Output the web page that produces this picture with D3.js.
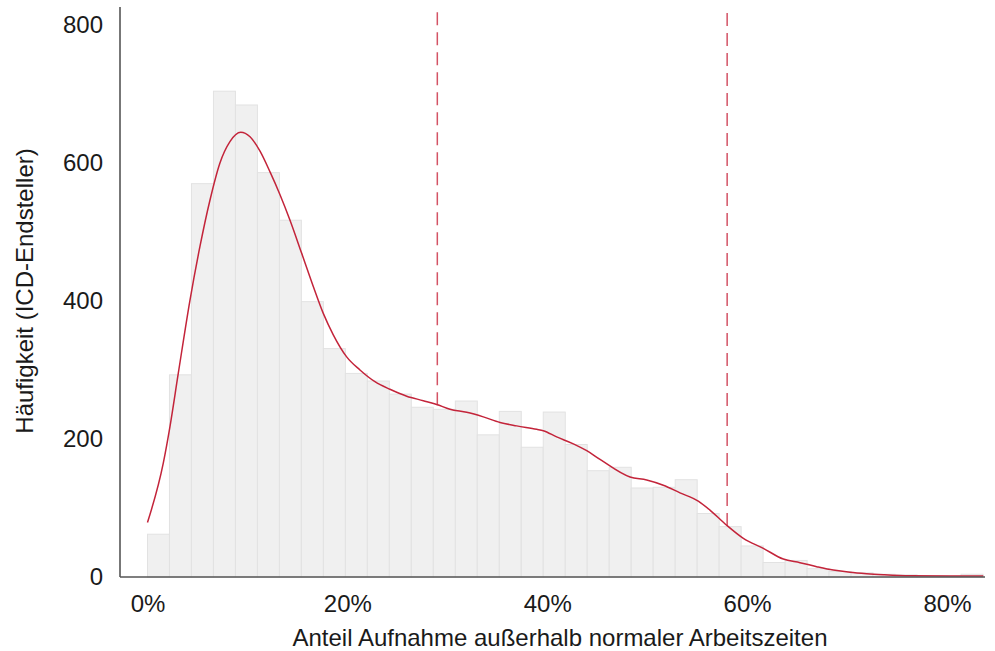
<!DOCTYPE html>
<html>
<head>
<meta charset="utf-8">
<script src="https://cdn.jsdelivr.net/npm/d3@7"></script>
<style>
  html, body { margin: 0; padding: 0; background: #fff; }
  svg { display: block; font-family: "Liberation Sans", Arial, sans-serif; }
</style>
</head>
<body>
<svg id="chart" width="995" height="651"></svg>
<script>
// ---- data ----
const binWidth = 2.2; // percent
const counts = [62, 293, 570, 704, 684, 586, 517, 399, 331, 295, 284, 265, 246, 243, 255, 206, 240, 188, 239, 192,
                154, 159, 129, 130, 141, 92, 73, 45, 21, 24, 12, 8, 6, 4, 3, 1, 1, 4];
const densityX = [0.0, 1.58, 2.25, 3.08, 4.25, 5.25, 6.25, 7.25, 8.25, 9.33, 10.26, 11.26, 12.26, 13.26, 14.26, 15.43,
                  16.59, 17.59, 18.59, 19.93, 21.26, 22.76, 24.26, 25.94, 27.6, 28.94, 30.27, 31.94, 33.6, 35.27, 36.94,
                  38.94, 39.6, 40.94, 42.61, 43.95, 45.28, 48.28, 49.95, 51.61, 53.28, 55.11, 56.28, 57.95, 59.62, 61.62,
                  63.62, 65.29, 66.96, 68.62, 70.29, 71.96, 73.63, 76.3, 80.3, 83.63];
const densityY = [79, 165, 218, 295, 401, 479, 546, 600, 631, 644.5, 638, 617, 587, 554, 517, 469,
                  421, 382, 351, 319, 300, 283, 272, 262, 255.5, 250, 243, 238.6, 232, 224, 219,
                  214, 212, 203, 193, 183, 170.5, 145, 140.6, 133, 122, 110, 97, 75, 56, 41.5,
                  26, 20.8, 15, 10, 6.8, 4.8, 3.4, 1.9, 1.5, 1.5];
const vlineX = [29.0, 58.0];
const vlineFrom = [249, 74];
const vlineTo = 819;
const xTicks = [0, 20, 40, 60, 80];
const yTicks = [0, 200, 400, 600, 800];
const xTitle = "Anteil Aufnahme außerhalb normaler Arbeitszeiten";
const yTitle = "Häufigkeit (ICD-Endsteller)";

// ---- layout ----
const svg = d3.select("#chart");
const x = d3.scaleLinear().domain([-2.75, 83.8]).range([120, 985]);
const y = d3.scaleLinear().domain([0, 826]).range([577, 7]);

const bins = counts.map((c, i) => ({ x0: i * binWidth, x1: (i + 1) * binWidth, n: c }));

svg.append("g").selectAll("rect").data(bins).join("rect")
  .attr("x", d => x(d.x0))
  .attr("y", d => y(d.n))
  .attr("width", d => x(d.x1) - x(d.x0))
  .attr("height", d => y(0) - y(d.n))
  .attr("fill", "#f0f0f0")
  .attr("stroke", "#e2e2e2")
  .attr("stroke-width", 1);

const dens = densityX.map((v, i) => [v, densityY[i]]);
svg.append("path").datum(dens)
  .attr("fill", "none")
  .attr("stroke", "#c3243a")
  .attr("stroke-width", 1.5)
  .attr("d", d3.line().x(d => x(d[0])).y(d => y(d[1])).curve(d3.curveMonotoneX));

svg.append("g").selectAll("line").data(vlineX).join("line")
  .attr("x1", d => x(d)).attr("x2", d => x(d))
  .attr("y1", (d, i) => y(vlineFrom[i])).attr("y2", y(vlineTo))
  .attr("stroke", "#c8283e")
  .attr("stroke-opacity", 0.8)
  .attr("stroke-width", 1.5)
  .attr("stroke-dasharray", "13,7");

// axes
const fs = 24;
const xAxis = svg.append("g").attr("transform", `translate(0,${y(0)})`)
  .call(d3.axisBottom(x).tickValues(xTicks).tickFormat(d => d + "%").tickSize(0).tickPadding(18));
xAxis.select(".domain").attr("stroke", "#555").attr("stroke-width", 1.6)
  .attr("d", `M120,0H985`);
xAxis.selectAll("text").attr("font-size", fs).attr("fill", "#1a1a1a")
  .attr("font-family", "Liberation Sans, Arial, sans-serif");

const yAxis = svg.append("g").attr("transform", `translate(120,0)`)
  .call(d3.axisLeft(y).tickValues(yTicks).tickSize(0).tickPadding(17));
yAxis.select(".domain").attr("stroke", "#555").attr("stroke-width", 1.6)
  .attr("d", `M0,7V577`);
yAxis.selectAll("text").attr("font-size", fs).attr("fill", "#1a1a1a")
  .attr("font-family", "Liberation Sans, Arial, sans-serif");

svg.append("text")
  .attr("x", 560).attr("y", 646)
  .attr("text-anchor", "middle")
  .attr("font-size", fs).attr("fill", "#1a1a1a")
  .text(xTitle);

svg.append("text")
  .attr("transform", `translate(33,291) rotate(-90)`)
  .attr("text-anchor", "middle")
  .attr("font-size", fs).attr("fill", "#1a1a1a")
  .text(yTitle);
</script>
</body>
</html>
